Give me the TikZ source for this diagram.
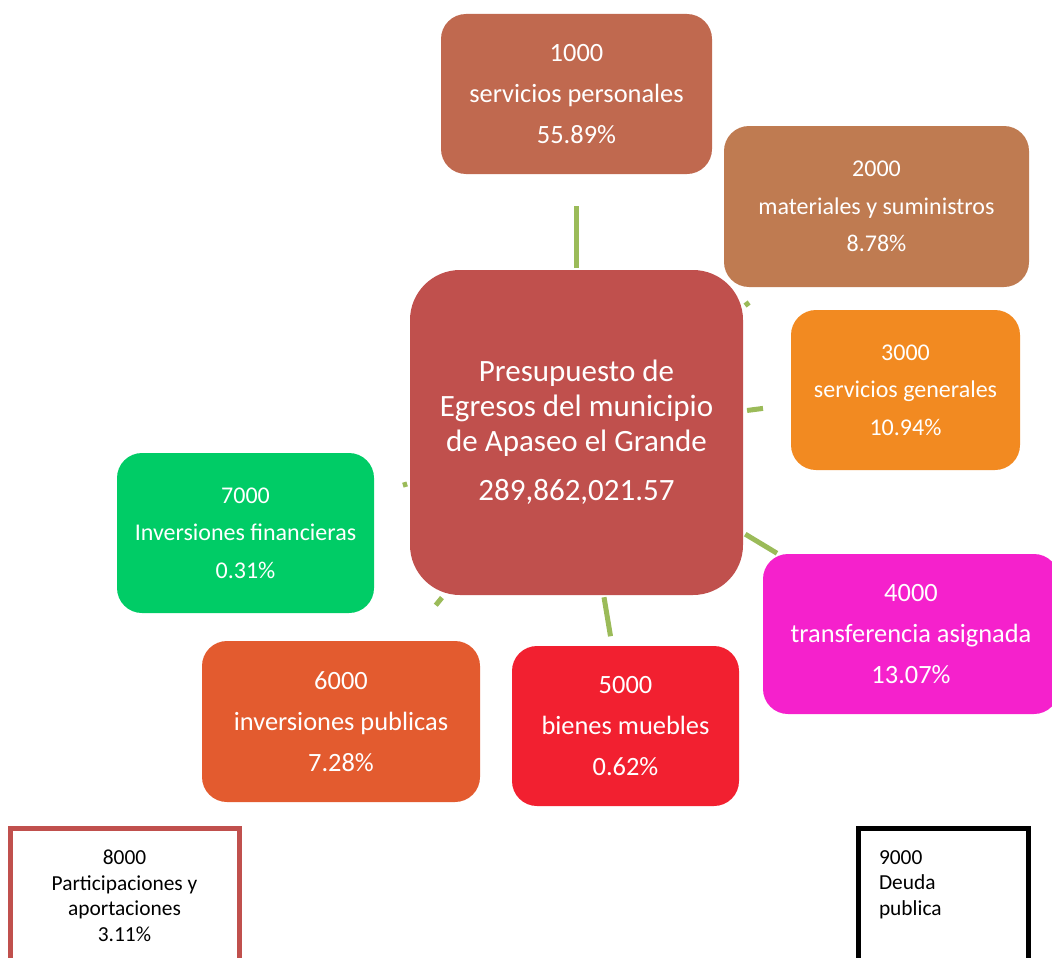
\documentclass[tikz,border=0pt]{standalone}
\usepackage{fontspec}
\setmainfont{Carlito}
\usepackage{xcolor}
\usetikzlibrary{backgrounds}

\definecolor{rojoctr}{HTML}{C0504D}
\definecolor{cafeA}{HTML}{C0694F}
\definecolor{cafeB}{HTML}{BF7B51}
\definecolor{naranja}{HTML}{F28A21}
\definecolor{magenta}{HTML}{F521CC}
\definecolor{rojo}{HTML}{F22030}
\definecolor{naranjaB}{HTML}{E35B2F}
\definecolor{verde}{HTML}{00CC66}
\definecolor{liga}{HTML}{9BBB59}

\begin{document}
\begin{tikzpicture}[x=1pt,y=-1pt,
    every node/.style={align=center,inner sep=0pt},
    caja/.style={rounded corners=25pt,text=white,minimum width=#1},
    big/.style={font=\fontsize{26.4}{41}\selectfont},
    small/.style={font=\fontsize{24}{37.5}\selectfont},
    link/.style={liga,line width=5pt}]
  	\clip (0,0) rectangle (1052,958);

  	\node (c0) at (576.5,432.5) [fill=rojoctr,rounded corners=50pt,text=white,minimum width=333,minimum height=325,font=\fontsize{31}{35}\selectfont]
  	  {Presupuesto de\\Egresos del municipio\\de Apaseo el Grande\\[14pt]289,862,021.57};
  	\node (b1) at (576.5,94) [caja=271,minimum height=160,fill=cafeA,big] {1000\\servicios personales\\55.89\%};
  	\node (b2) at (876.5,206.5) [caja=305,minimum height=161,fill=cafeB,small] {2000\\materiales y suministros\\8.78\%};
  	\node (b3) at (905.5,390) [caja=229,minimum height=160,fill=naranja,small] {3000\\servicios generales\\10.94\%};
  	\node (b4) at (911,634) [caja=296,minimum height=160,fill=magenta,big] {4000\\transferencia asignada\\13.07\%};
  	\node (b5) at (625.5,726) [caja=227,minimum height=160,fill=rojo,big] {5000\\bienes muebles\\0.62\%};
  	\node (b6) at (341,721.5) [caja=278,minimum height=161,fill=naranjaB,big] {6000\\inversiones publicas\\7.28\%};
  	\node (b7) at (245.5,533) [caja=257,minimum height=160,fill=verde,small] {7000\\Inversiones financieras\\0.31\%};

  	\node (b8) at (124.5,896) [draw=rojoctr,line width=5pt,minimum width=229,minimum height=136,font=\fontsize{21.4}{25.5}\selectfont]
  	  {8000\\Participaciones y\\aportaciones\\3.11\%};
  	\node (b9) at (856,826) [anchor=north west,draw=black,line width=5pt,align=left,text width=129pt,inner xsep=20.5pt,inner ysep=22pt,font=\fontsize{21.4}{25.5}\selectfont]
  	  {9000\\Deuda\\publica\rule[-60pt]{0pt}{0pt}};

  	\begin{scope}[on background layer]
  	\draw[link,shorten <=164.5pt,shorten >=112pt] (c0.center) -- (b1.center);
  	\draw[link,shorten <=211pt,shorten >=159.5pt] (c0.center) -- (b2.center);
  	\draw[link,shorten <=172pt,shorten >=143.7pt] (c0.center) -- (b3.center);
  	\draw[link,shorten <=197pt,shorten >=156.5pt] (c0.center) -- (b4.center);
  	\draw[link,shorten <=167pt,shorten >=91pt] (c0.center) -- (b5.center);
  	\draw[link,shorten <=213pt,shorten >=150pt] (c0.center) -- (b6.center);
  	\draw[link,shorten <=177pt,shorten >=164.5pt] (c0.center) -- (b7.center);
  	\end{scope}
\end{tikzpicture}
\end{document}
